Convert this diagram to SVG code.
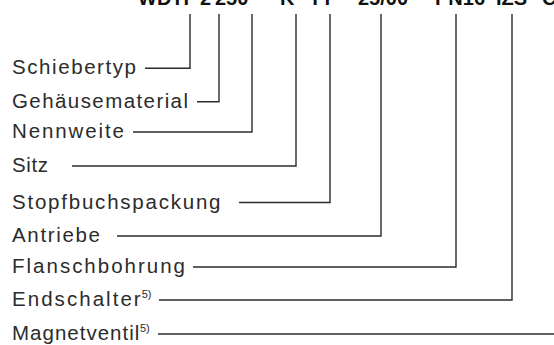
<svg xmlns="http://www.w3.org/2000/svg" width="554" height="345" viewBox="0 0 554 345">
<style>
.code{font-family:"Liberation Sans",Arial,sans-serif;font-weight:bold;font-size:20px;fill:#111}
.lbl{font-family:"Liberation Sans",Arial,sans-serif;font-size:20.5px;fill:#2b2b2b}
.sup{font-family:"Liberation Sans",Arial,sans-serif;font-size:11px;fill:#2b2b2b}
.ln{fill:none;stroke:#2b2b2b;stroke-width:1.4}
</style>
<rect width="554" height="345" fill="#fff"/>
<g id="code">
<text class="code" x="138" y="5">WDTF</text>
<text class="code" x="200" y="5">2</text>
<text class="code" x="215" y="5">250</text>
<text class="code" x="280" y="5">K</text>
<text class="code" x="309" y="5">TT</text>
<text class="code" x="358" y="5">25/00</text>
<text class="code" x="435" y="5">PN16</text>
<text class="code" x="496" y="5">IZS</text>
<text class="code" x="542" y="5">C</text>
</g>
<g id="connectors">
<polyline class="ln" points="145,68.3 190,68.3 190,14"/>
<polyline class="ln" points="197,101.7 219,101.7 219,14"/>
<polyline class="ln" points="133,132 252,132 252,14"/>
<polyline class="ln" points="72,166 296,166 296,14"/>
<polyline class="ln" points="239,202.5 330,202.5 330,14"/>
<polyline class="ln" points="117,236 381,236 381,14"/>
<polyline class="ln" points="193,267 456,267 456,14"/>
<polyline class="ln" points="159,300 512,300 512,14"/>
<polyline class="ln" points="158,334 554,334"/>
</g>
<g id="n-schiebertyp"><text class="lbl" x="12" y="74" textLength="124" lengthAdjust="spacing">Schiebertyp</text></g>
<g id="n-gehaeusematerial"><text class="lbl" x="12" y="107.5" textLength="176" lengthAdjust="spacing">Gehäusematerial</text></g>
<g id="n-nennweite"><text class="lbl" x="12" y="138" textLength="112" lengthAdjust="spacing">Nennweite</text></g>
<g id="n-sitz"><text class="lbl" x="12" y="172" textLength="36" lengthAdjust="spacing">Sitz</text></g>
<g id="n-stopfbuchspackung"><text class="lbl" x="12" y="208.5" textLength="208.5" lengthAdjust="spacing">Stopfbuchspackung</text></g>
<g id="n-antriebe"><text class="lbl" x="12" y="242" textLength="88" lengthAdjust="spacing">Antriebe</text></g>
<g id="n-flanschbohrung"><text class="lbl" x="12" y="273" textLength="173" lengthAdjust="spacing">Flanschbohrung</text></g>
<g id="n-endschalter"><text class="lbl" x="12" y="306" textLength="128.7" lengthAdjust="spacing">Endschalter</text><text class="sup" x="141.7" y="297.5">5)</text></g>
<g id="n-magnetventil"><text class="lbl" x="12" y="340" textLength="127.3" lengthAdjust="spacing">Magnetventil</text><text class="sup" x="140" y="331.5">5)</text></g>
</svg>
